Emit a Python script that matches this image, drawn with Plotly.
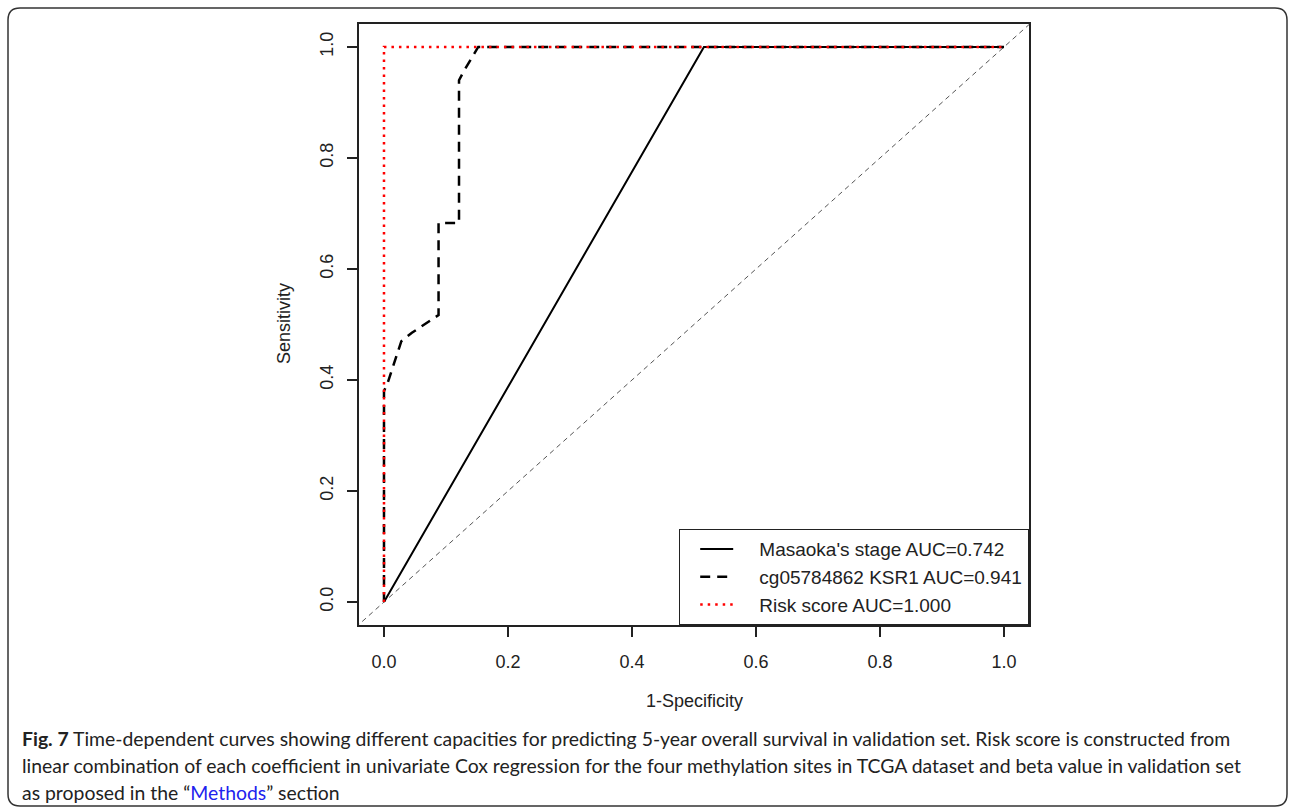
import plotly.graph_objects as go

# ---- data ----
masaoka_fpr = [0.0, 0.516, 1.0]
masaoka_tpr = [0.0, 1.0, 1.0]
ksr1_fpr = [0.0, 0.0, 0.006, 0.028, 0.045, 0.088, 0.088, 0.121, 0.121, 0.128, 0.152, 1.0]
ksr1_tpr = [0.0, 0.38, 0.395, 0.47, 0.485, 0.517, 0.683, 0.683, 0.94, 0.955, 1.0, 1.0]
risk_fpr = [0.0, 0.0, 1.0]
risk_tpr = [0.0, 1.0, 1.0]
ref_x = [-0.1, 1.1]
ref_y = [-0.1, 1.1]
names = ["Masaoka's stage AUC=0.742", "cg05784862 KSR1 AUC=0.941", "Risk score AUC=1.000"]
tick_vals = [0.0, 0.2, 0.4, 0.6, 0.8, 1.0]
tick_text = ["0.0", "0.2", "0.4", "0.6", "0.8", "1.0"]

# ---- layout geometry (pixels) ----
W, H = 1290, 810
L, R, T, B = 359, 1029, 24, 625
PW, PH = R - L, B - T


def px(x):
    return (x - L) / PW


def py(y):
    return (B - y) / PH


pad = "\u00a0\u00a0\u00a0\u00a0"

fig = go.Figure()
fig.add_trace(go.Scatter(x=ref_x, y=ref_y, mode="lines", showlegend=False,
                         line=dict(color="#555555", width=1, dash="5px,4px"), hoverinfo="skip"))
fig.add_trace(go.Scatter(x=masaoka_fpr, y=masaoka_tpr, mode="lines", name=pad + names[0],
                         line=dict(color="black", width=2)))
fig.add_trace(go.Scatter(x=ksr1_fpr, y=ksr1_tpr, mode="lines", name=pad + names[1],
                         line=dict(color="black", width=2.5, dash="10px,7px")))
fig.add_trace(go.Scatter(x=risk_fpr, y=risk_tpr, mode="lines", name=pad + names[2],
                         line=dict(color="red", width=2.5, dash="2.5px,5px")))

axis_common = dict(
    showgrid=False, zeroline=False, showline=True, mirror=True, linecolor="#222222", linewidth=1.5,
    ticks="outside", ticklen=10, tickwidth=1.5, tickcolor="#222222",
    tickvals=tick_vals, ticktext=tick_text,
    tickfont=dict(family="Liberation Sans, Arial", size=18, color="#222222"),
)
fig.update_xaxes(range=[-0.0403, 1.0403], ticklabelstandoff=10, **axis_common)
fig.update_yaxes(range=[-0.0414, 1.0414], tickangle=-90, ticklabelstandoff=7, **axis_common)

# outer rounded frame
x0, y0, x1, y1, r = 8, 8, 1287, 806, 12
path = (f"M {px(x0 + r)},{py(y0)} L {px(x1 - r)},{py(y0)} Q {px(x1)},{py(y0)} {px(x1)},{py(y0 + r)} "
        f"L {px(x1)},{py(y1 - r)} Q {px(x1)},{py(y1)} {px(x1 - r)},{py(y1)} "
        f"L {px(x0 + r)},{py(y1)} Q {px(x0)},{py(y1)} {px(x0)},{py(y1 - r)} "
        f"L {px(x0)},{py(y0 + r)} Q {px(x0)},{py(y0)} {px(x0 + r)},{py(y0)} Z")
fig.add_shape(type="path", path=path, xref="paper", yref="paper",
              line=dict(color="#333333", width=1.5), layer="below")

annots = []
axfont = dict(family="Liberation Sans, Arial", size=18, color="#222222")
annots.append(dict(text="Sensitivity", x=px(284), y=py(324), xref="paper", yref="paper",
                   showarrow=False, textangle=-90, font=axfont, xanchor="center", yanchor="middle"))
annots.append(dict(text="1-Specificity", x=px(694), y=py(701), xref="paper", yref="paper",
                   showarrow=False, font=axfont, xanchor="center", yanchor="middle"))

cap_font = dict(family="Lato", size=19.4, color="#222222")
cap_lines = [
    "<b>Fig. 7</b> Time-dependent curves showing different capacities for predicting 5-year overall survival in validation set. Risk score is constructed from",
    "linear combination of each coefficient in univariate Cox regression for the four methylation sites in TCGA dataset and beta value in validation set",
    "as proposed in the \u201c<span style='color:#2222ee'>Methods</span>\u201d section",
]
for i, line in enumerate(cap_lines):
    annots.append(dict(text=line, x=px(20), y=py(738 + 27 * i), xref="paper", yref="paper",
                       showarrow=False, font=cap_font, xanchor="left", yanchor="middle", align="left"))

fig.update_layout(
    width=W, height=H,
    margin=dict(l=L, r=W - R, t=T, b=H - B),
    paper_bgcolor="white", plot_bgcolor="white",
    annotations=annots,
    legend=dict(x=1, y=0, xanchor="right", yanchor="bottom", bgcolor="white",
                bordercolor="#222222", borderwidth=1.2, indentation=15,
                font=dict(family="Liberation Sans, Arial", size=19, color="#222222"),
                itemwidth=33, tracegroupgap=0),
)

fig.write_html("out.html", config={"displayModeBar": False},
               post_script="document.body.style.margin='0';document.body.style.overflow='hidden';")
